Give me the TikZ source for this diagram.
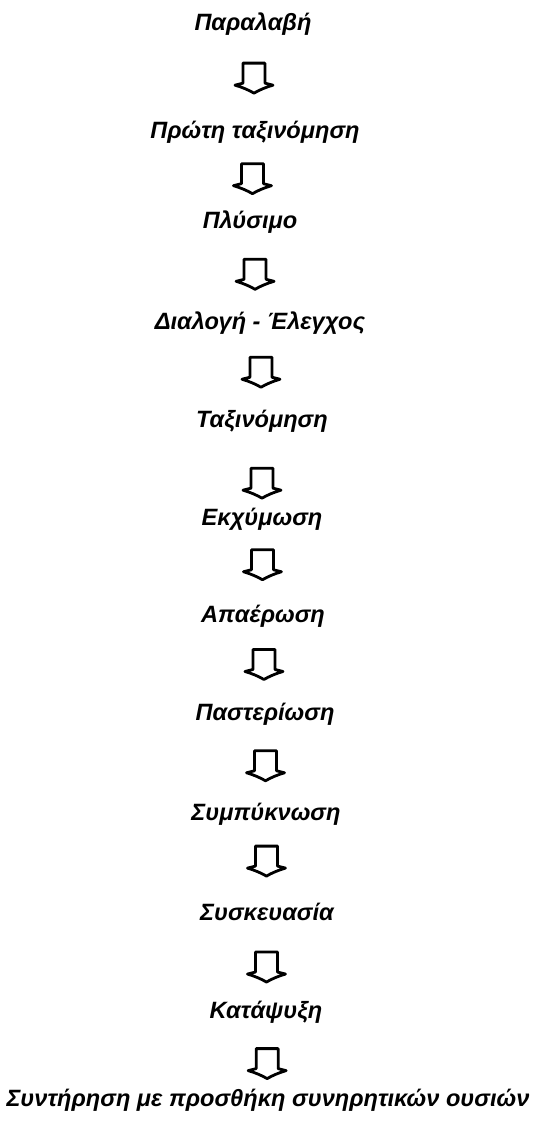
\documentclass[tikz,border=0pt]{standalone}
\usepackage{fontspec}
\setmainfont{Liberation Sans}
\usetikzlibrary{positioning}

\begin{document}
\begin{tikzpicture}[
  x=0.5pt, y=-0.5pt,
  every node/.style = {font=\fontsize{11.8}{14}\selectfont\bfseries\itshape,
    inner sep=0pt, text height=1.5ex, text depth=.5ex},
  blockarrow/.pic = {
    \draw[line width=1.4pt, line join=round, fill=white]
      (-11,-15) -- (11,-15) -- (11,5) -- (19,7)
      .. controls (12,9) and (5,12) .. (0,15)
      .. controls (-5,12) and (-12,9) .. (-19,7)
      -- (-11,5) -- cycle;
  }]
  \useasboundingbox (0,0) rectangle (537,1126);
  \node (n1)  at (253,25)   {Παραλαβή};
  \node (n2)  at (255,133)  {Πρώτη ταξινόμηση};
  \node (n3)  at (250,223)  {Πλύσιμο};
  \node (n4)  at (260,324)  {Διαλογή - Έλεγχος};
  \node (n5)  at (262,422)  {Ταξινόμηση};
  \node (n6)  at (262,520)  {Εκχύμωση};
  \node (n7)  at (263,617)  {Απαέρωση};
  \node (n8)  at (265,715)  {Παστερίωση};
  \node (n9)  at (266,815)  {Συμπύκνωση};
  \node (n10) at (267,915)  {Συσκευασία};
  \node (n11) at (266,1013) {Κατάψυξη};
  \node (n12) at (268,1101) {Συντήρηση με προσθήκη συνηρητικών ουσιών};
  % block arrows between the steps
  \foreach \a/\b/\p in {n1/n2/.49, n2/n3/.51, n3/n4/.51, n4/n5/.49,
      n5/n6/.66, n6/n7/.45, n7/n8/.48, n8/n9/.51, n9/n10/.45,
      n10/n11/.54, n11/n12/.6}
    \path (\a) -- (\b) pic[pos=\p] {blockarrow};
\end{tikzpicture}
\end{document}
